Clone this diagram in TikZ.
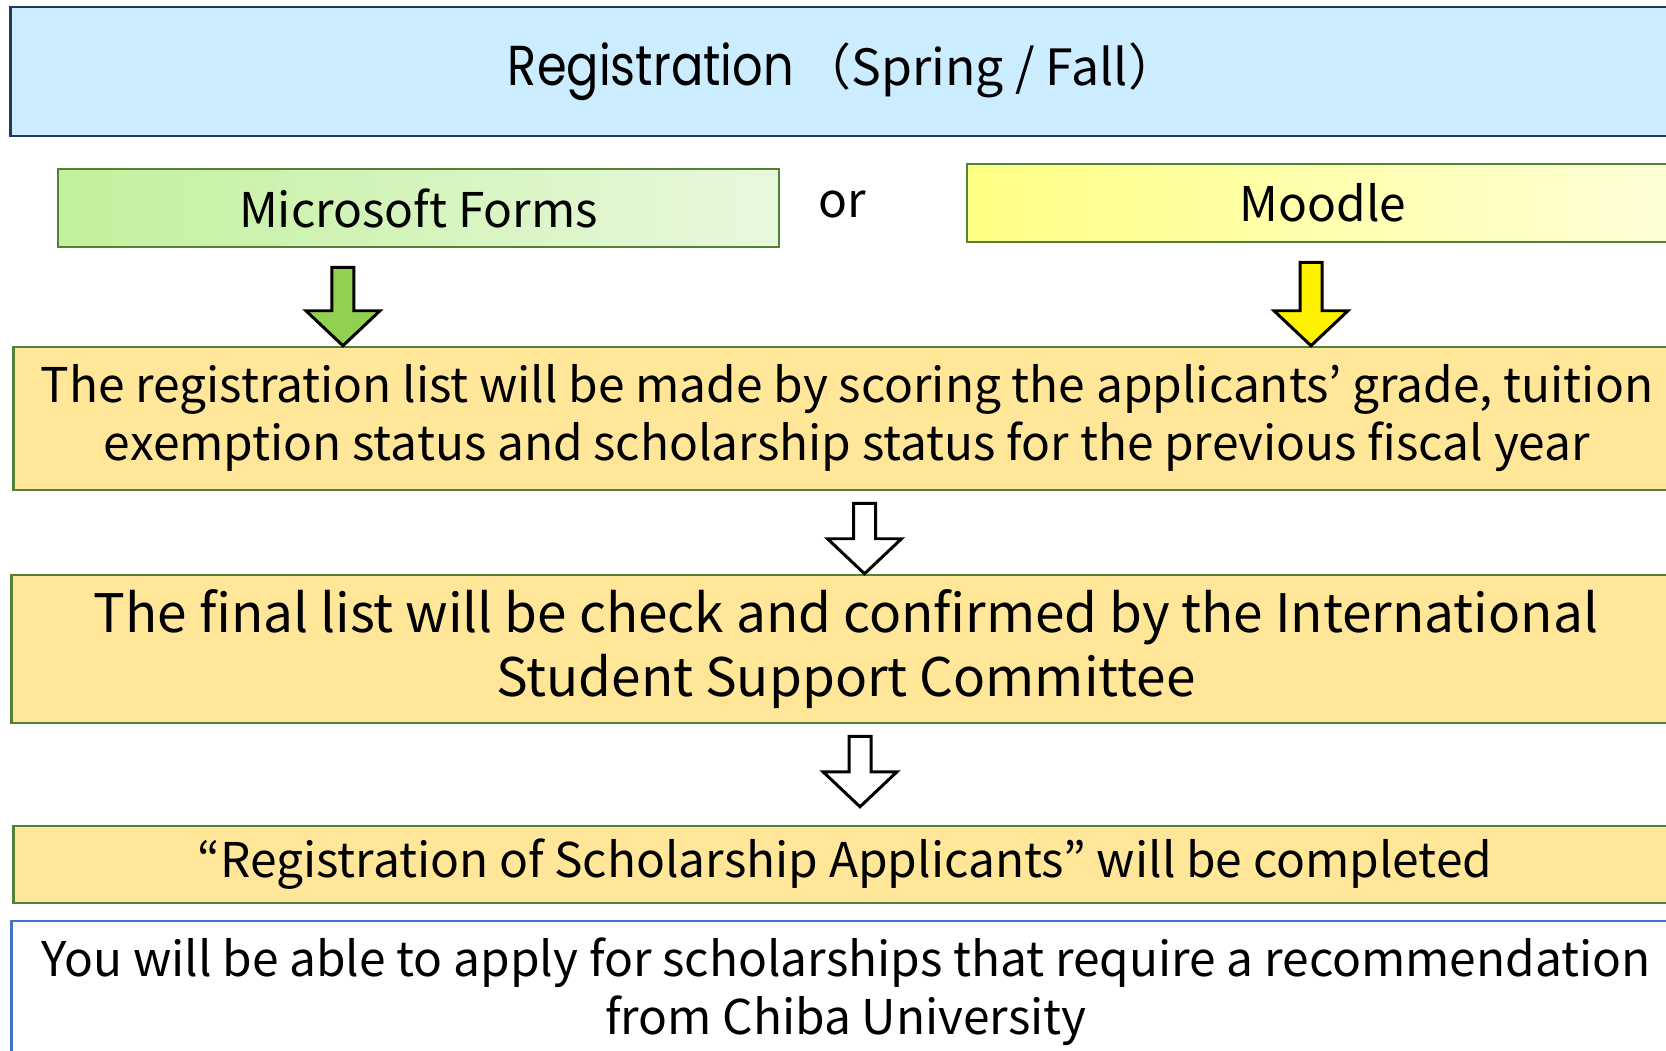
\documentclass[tikz,border=0pt]{standalone}
\usepackage{fontspec}
\setmainfont{Noto Sans CJK JP}
\newfontfamily\headfont[FakeStretch=0.85]{Poppins}
\usetikzlibrary{calc}

\definecolor{regblue}{HTML}{CCECFF}
\definecolor{regborder}{HTML}{1F3864}
\definecolor{boxgreen}{HTML}{548235}
\definecolor{formsleft}{HTML}{C2F09C}
\definecolor{formsright}{HTML}{E8F8DE}
\definecolor{moodleleft}{HTML}{FFFF84}
\definecolor{moodleright}{HTML}{FFFFD8}
\definecolor{stepfill}{HTML}{FFE699}
\definecolor{arrowgreen}{HTML}{92D050}
\definecolor{applyborder}{HTML}{4472C4}

\tikzset{
  stepbox/.style={draw=boxgreen, line width=0.7pt, fill=stepfill, align=center, inner sep=0pt},
  toolbox/.style={draw=boxgreen, line width=0.7pt, inner sep=0pt, minimum width=#1, minimum height=0.78cm},
  blockarrow/.style={draw=black, line width=0.85pt, line join=miter},
  bodytext/.style={font=\fontsize{13.6pt}{16.5pt}\selectfont},
}

% block arrow from #2 (top of shaft) down to #3 (tip)
\newcommand{\blockarr}[3]{%
  \draw[blockarrow, #1] ($(#2)+(-11,0)$) -- ($(#2)+(11,0)$) -- ($(#3)+(11,-35)$)
    -- ($(#3)+(37,-35)$) -- (#3) -- ($(#3)+(-37,-35)$) -- ($(#3)+(-11,-35)$) -- cycle;}

\begin{document}
\begin{tikzpicture}[x=0.01cm, y=-0.01cm]
  \clip (0,0) rectangle (1666,1050);
  \fill[white] (0,0) rectangle (1666,1050);

  \node[draw=regborder, line width=0.8pt, fill=regblue, inner sep=0pt,
        minimum width=16.64cm, minimum height=1.29cm] (reg) at (843,71.5)
        {{\fontsize{16pt}{18pt}\selectfont\headfont Registration}
         {\fontsize{14.2pt}{18pt}\selectfont （Spring / Fall）}};

  \node[toolbox=7.21cm, left color=formsleft, right color=formsright, bodytext] (forms) at (418.5,208) {Microsoft Forms};
  \node[bodytext] (or) at (842,204) {or};
  \node[toolbox=7.12cm, left color=moodleleft, right color=moodleright, bodytext] (moodle) at (1323,203) {Moodle};

  \node[stepbox, bodytext, minimum width=16.66cm, minimum height=1.43cm] (list) at (847,418.5)
    {\raisebox{-1.5pt}{The registration list will be made by scoring the applicants’ grade, tuition}\\
     \raisebox{-1.5pt}{exemption status and scholarship status for the previous fiscal year}};
  \node[stepbox, minimum width=16.68cm, minimum height=1.48cm,
        font=\fontsize{15.1pt}{18.2pt}\selectfont] (final) at (846,649)
    {The final list will be check and confirmed by the International\\
     Student Support Committee};
  \node[stepbox, bodytext, minimum width=16.62cm, minimum height=0.77cm] (done) at (845,864.5)
    {\raisebox{-1.2pt}{“Registration of Scholarship Applicants” will be completed}};
  \node[draw=applyborder, line width=0.7pt, fill=white, align=center, inner sep=0pt, bodytext,
        minimum width=16.68cm, minimum height=1.41cm] (apply) at (846,991.5)
    {You will be able to apply for scholarships that require a recommendation\\
     from Chiba University};

  % arrows between the steps
  \coordinate (gtop) at ([xshift=-0.755cm, yshift=-0.19cm]forms.south);
  \coordinate (gtip) at (gtop |- list.north);
  \coordinate (ytop) at ([xshift=-0.12cm, yshift=-0.19cm]moodle.south);
  \coordinate (ytip) at (ytop |- list.north);
  \coordinate (atop) at ([xshift=0.175cm, yshift=-0.12cm]list.south);
  \coordinate (atip) at (atop |- final.north);
  \coordinate (btop) at ([xshift=0.14cm, yshift=-0.12cm]final.south);
  \coordinate (btip) at ([yshift=0.18cm]btop |- done.north);

  \blockarr{fill=arrowgreen}{gtop}{gtip}
  \blockarr{fill=yellow}{ytop}{ytip}
  \blockarr{fill=white}{atop}{atip}
  \blockarr{fill=white}{btop}{btip}
\end{tikzpicture}
\end{document}
